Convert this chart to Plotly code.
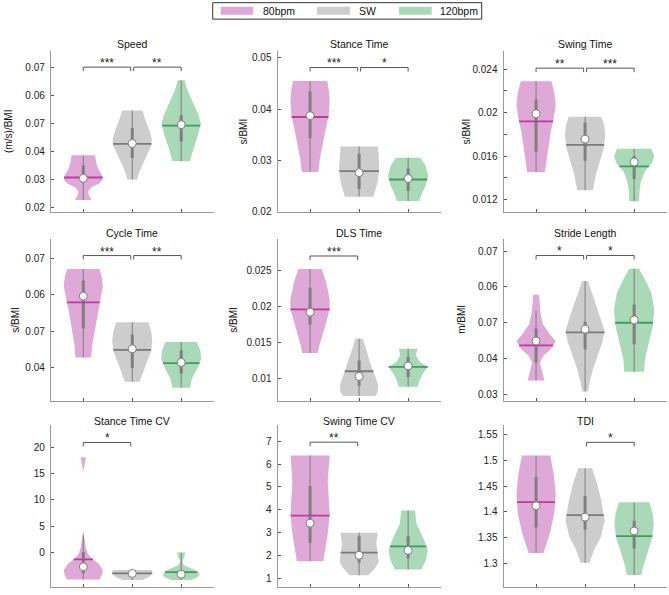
import numpy as np
import plotly.graph_objects as go

W, H = 669, 595

TITLES = ["Speed", "Stance Time", "Swing Time", "Cycle Time", "DLS Time",
          "Stride Length", "Stance Time CV", "Swing Time CV", "TDI"]
YLABELS = ["(m/s)/BMI", "s/BMI", "s/BMI", "s/BMI", "s/BMI", "m/BMI", "", "", ""]
GROUPS = ["80bpm", "SW", "120bpm"]

# y axis ranges, ticks and tick labels (as printed in the figure)
YRANGES = [[0.01834, 0.0759], [0.01988, 0.0514], [0.01083, 0.02572],
           [0.03106, 0.07523], [0.00693, 0.02936], [0.02825, 0.07341],
           [-6.53, 24.14], [0.609, 7.696], [1.2544, 1.5679]]
YTICKS = [[0.02, 0.03, 0.04, 0.05, 0.06, 0.07],
          [0.02, 0.03, 0.04, 0.05],
          [0.012, 0.014, 0.016, 0.018, 0.02, 0.022, 0.024],
          [0.04, 0.05, 0.06, 0.07],
          [0.01, 0.015, 0.02, 0.025],
          [0.03, 0.04, 0.05, 0.06, 0.07],
          [0, 5, 10, 15, 20],
          [1, 2, 3, 4, 5, 6, 7],
          [1.3, 1.35, 1.4, 1.45, 1.5, 1.55]]
YTICKTEXT = [["0.02", "0.03", "0.04", "0.07", "0.06", "0.07"],
             ["0.02", "0.03", "0.04", "0.05"],
             ["0.012", "", "0.016", "", "0.02", "", "0.024"],
             ["0.04", "0.07", "0.06", "0.07"],
             ["0.01", "0.015", "0.02", "0.025"],
             ["0.03", "0.04", "0.07", "0.06", "0.07"],
             ["0", "5", "10", "15", "20"],
             ["1", "2", "3", "4", "5", "6", "7"],
             ["1.3", "1.35", "1.4", "1.45", "1.5", "1.55"]]

# violin density profiles: (value, half-width in category units), top to bottom
PROFILE_SPEED = {
    "80bpm": [(0.0386, 0.24), (0.0362, 0.26), (0.0339, 0.30), (0.0315, 0.38), (0.0301, 0.40),
              (0.0286, 0.33), (0.0271, 0.16), (0.0256, 0.10), (0.0245, 0.11), (0.0227, 0.17)],
    "SW": [(0.0546, 0.21), (0.0515, 0.26), (0.0480, 0.34), (0.0445, 0.40), (0.0421, 0.39),
           (0.0386, 0.30), (0.0351, 0.20), (0.0321, 0.13), (0.0300, 0.10)],
    "120bpm": [(0.0653, 0.07), (0.0621, 0.12), (0.0574, 0.24), (0.0527, 0.36), (0.0498, 0.40),
               (0.0456, 0.34), (0.0421, 0.27), (0.0386, 0.21), (0.0365, 0.18)],
}
PROFILE_STANCE = {
    "80bpm": [(0.04548, 0.35), (0.04323, 0.39), (0.04129, 0.40), (0.03871, 0.38), (0.03613, 0.32),
              (0.03355, 0.26), (0.03032, 0.20), (0.02774, 0.17)],
    "SW": [(0.03271, 0.38), (0.03097, 0.40), (0.02839, 0.41), (0.02581, 0.38), (0.02387, 0.32),
           (0.0229, 0.29)],
    "120bpm": [(0.03052, 0.25), (0.02903, 0.35), (0.02710, 0.41), (0.02516, 0.36), (0.02323, 0.27),
               (0.02206, 0.23)],
}
PROFILE_SWING = {
    "80bpm": [(0.02290, 0.31), (0.02192, 0.37), (0.02070, 0.40), (0.01948, 0.36), (0.01826, 0.30),
              (0.01673, 0.25), (0.01551, 0.21), (0.01453, 0.18)],
    "SW": [(0.01963, 0.33), (0.01887, 0.39), (0.01795, 0.41), (0.01673, 0.38), (0.01551, 0.30),
           (0.01429, 0.22), (0.01337, 0.18), (0.01286, 0.16)],
    "120bpm": [(0.01667, 0.35), (0.01597, 0.41), (0.01536, 0.36), (0.01460, 0.22), (0.01368, 0.14),
               (0.01276, 0.11), (0.01185, 0.10)],
}
PROFILE_CYCLE = {
    "80bpm": [(0.06702, 0.33), (0.06467, 0.38), (0.06241, 0.40), (0.05880, 0.35), (0.05519, 0.29),
              (0.05067, 0.23), (0.04615, 0.18), (0.04281, 0.16)],
    "SW": [(0.05247, 0.33), (0.04976, 0.39), (0.04706, 0.41), (0.04434, 0.38), (0.04164, 0.30),
           (0.03893, 0.22), (0.03622, 0.15)],
    "120bpm": [(0.04706, 0.32), (0.04480, 0.39), (0.04254, 0.41), (0.03983, 0.33), (0.03712, 0.22),
               (0.03459, 0.18)],
}
PROFILE_DLS = {
    "80bpm": [(0.02518, 0.24), (0.0233, 0.33), (0.02101, 0.40), (0.01963, 0.40), (0.0178, 0.33),
              (0.01596, 0.25), (0.01459, 0.19), (0.01353, 0.16)],
    "SW": [(0.01550, 0.08), (0.01413, 0.14), (0.0123, 0.22), (0.01046, 0.32), (0.00908, 0.39),
           (0.00817, 0.38), (0.00757, 0.33)],
    "120bpm": [(0.01413, 0.19), (0.01321, 0.16), (0.0123, 0.24), (0.01161, 0.40), (0.01069, 0.30),
               (0.00954, 0.22), (0.00885, 0.20)],
}
PROFILE_STRIDE = {
    "80bpm": [(0.05784, 0.06), (0.05561, 0.07), (0.05282, 0.09), (0.04957, 0.14), (0.04679, 0.28),
              (0.04493, 0.40), (0.04261, 0.30), (0.04075, 0.15), (0.03889, 0.08), (0.03657, 0.12),
              (0.03388, 0.17)],
    "SW": [(0.06164, 0.06), (0.05839, 0.14), (0.05468, 0.24), (0.05097, 0.33), (0.04772, 0.40),
           (0.04447, 0.35), (0.04075, 0.25), (0.03704, 0.16), (0.03333, 0.09), (0.03082, 0.06)],
    "120bpm": [(0.06508, 0.10), (0.06211, 0.22), (0.05839, 0.35), (0.05375, 0.41), (0.04911, 0.38),
               (0.04447, 0.30), (0.03982, 0.22), (0.03630, 0.20)],
}
PROFILE_STANCE_CV = {
    "80bpm": [(18.1, 0.055), (16.7, 0.03), (15.4, 0.0), (4.2, 0.0), (2.95, 0.02), (1.07, 0.05),
              (-0.19, 0.09), (-1.13, 0.17), (-2.07, 0.31), (-3.32, 0.40), (-4.26, 0.38), (-5.08, 0.33)],
    "SW": [(-3.32, 0.40), (-3.95, 0.41), (-4.58, 0.35), (-5.2, 0.20)],
    "120bpm": [(0.0, 0.09), (-0.82, 0.06), (-1.76, 0.02), (-2.38, 0.06), (-3.32, 0.28),
               (-4.08, 0.38), (-4.70, 0.33), (-5.2, 0.20)],
}
PROFILE_SWING_CV = {
    "80bpm": [(6.38, 0.40), (5.84, 0.38), (5.26, 0.36), (4.54, 0.38), (3.81, 0.40), (3.09, 0.37),
              (2.36, 0.31), (1.74, 0.27)],
    "SW": [(2.99, 0.38), (2.51, 0.35), (2.07, 0.38), (1.71, 0.40), (1.42, 0.32), (1.13, 0.19)],
    "120bpm": [(3.96, 0.14), (3.38, 0.17), (2.80, 0.30), (2.22, 0.40), (1.78, 0.36), (1.38, 0.27)],
}
PROFILE_TDI = {
    "80bpm": [(1.5096, 0.29), (1.473, 0.36), (1.4346, 0.40), (1.3962, 0.37), (1.3577, 0.28),
              (1.3205, 0.15)],
    "SW": [(1.4846, 0.14), (1.4538, 0.25), (1.4218, 0.33), (1.3833, 0.40), (1.3513, 0.32),
           (1.3256, 0.18), (1.3013, 0.09)],
    "120bpm": [(1.4186, 0.31), (1.3962, 0.38), (1.3769, 0.40), (1.3513, 0.37), (1.3192, 0.27),
               (1.2936, 0.18), (1.2776, 0.15)],
}
PROFILES = [PROFILE_SPEED, PROFILE_STANCE, PROFILE_SWING, PROFILE_CYCLE, PROFILE_DLS,
            PROFILE_STRIDE, PROFILE_STANCE_CV, PROFILE_SWING_CV, PROFILE_TDI]

# summary statistics per panel, per group (80bpm, SW, 120bpm)
DOT = [[0.0304, 0.0428, 0.0495], [0.0387, 0.0276, 0.02645], [0.0199, 0.01756, 0.01545],
       [0.0596, 0.0452, 0.0415], [0.0192, 0.01028, 0.01174], [0.0449, 0.0482, 0.0508],
       [-2.7, -3.95, -4.1], [3.41, 2.0, 2.22], [1.412, 1.39, 1.363]]
HLINE = [[0.0307, 0.0427, 0.0492], [0.03845, 0.0279, 0.02626], [0.0192, 0.01704, 0.01505],
         [0.0579, 0.0449, 0.0413], [0.0196, 0.0110, 0.0116], [0.0437, 0.0473, 0.0500],
         [-1.3, -3.95, -3.7], [3.74, 2.12, 2.39], [1.419, 1.394, 1.353]]
Q3 = [[0.0350, 0.0483, 0.0529], [0.0434, 0.0313, 0.0284], [0.0212, 0.0191, 0.0160],
      [0.0639, 0.0491, 0.0448], [0.0226, 0.0125, 0.0130], [0.0484, 0.0503, 0.0551],
      [0.1, -3.5, -3.3], [5.04, 2.83, 2.83], [1.468, 1.431, 1.383]]
Q1 = [[0.0289, 0.0376, 0.0435], [0.0343, 0.0244, 0.0240], [0.0164, 0.01557, 0.0139],
      [0.0508, 0.0400, 0.0385], [0.0175, 0.0090, 0.0102], [0.0389, 0.0426, 0.0440],
      [-3.9, -4.3, -4.6], [2.54, 1.67, 1.86], [1.37, 1.366, 1.329]]
WHI = [[0.0386, 0.0546, 0.0653], [0.04548, 0.03271, 0.03052], [0.0229, 0.01963, 0.01667],
       [0.06702, 0.05247, 0.04706], [0.02518, 0.0155, 0.01413], [0.0533, 0.06164, 0.06508],
       [3.3, -3.32, 0.0], [6.38, 2.99, 3.96], [1.5096, 1.4846, 1.4186]]
WLO = [[0.0227, 0.0300, 0.0365], [0.02774, 0.0229, 0.02206], [0.01453, 0.01286, 0.01185],
       [0.04281, 0.03622, 0.03459], [0.01353, 0.00757, 0.00885], [0.03388, 0.03082, 0.0363],
       [-5.08, -5.2, -5.2], [1.74, 1.13, 1.38], [1.3205, 1.3013, 1.2776]]

# significance brackets: (group a, group b, height, label)
BRACKETS = [[(1, 2, 0.0700, "***"), (2, 3, 0.0700, "**")],
            [(1, 2, 0.0481, "***"), (2, 3, 0.0481, "*")],
            [(1, 2, 0.0241, "**"), (2, 3, 0.0241, "***")],
            [(1, 2, 0.0707, "***"), (2, 3, 0.0707, "**")],
            [(1, 2, 0.0270, "***")],
            [(1, 2, 0.0688, "*"), (2, 3, 0.0688, "*")],
            [(1, 2, 20.9, "*")],
            [(1, 2, 6.96, "**")],
            [(2, 3, 1.535, "*")]]

FILL = ["#dea8d7", "#cdcdcd", "#a9d9b6"]
LINECOL = ["#c0399e", "#7a7a7a", "#3f9d5c"]
GRAY = "#7f7f7f"
FONT = "Liberation Sans, Arial, Helvetica, sans-serif"

COL_PX = [(51, 213.5), (277.7, 440.5), (503.7, 666.5)]
ROW_PX = [(51, 214), (241, 404), (429, 592)]
TITLE_Y = [44, 234.5, 424.3]
YLAB_X = [[8.5, 243, 466], [16, 234, 462], [0, 0, 0]]

fig = go.Figure()
annotations = []
shapes = []

for k in range(9):
    r, c = divmod(k, 3)
    ax = "" if k == 0 else str(k + 1)
    xa, ya = "x" + ax, "y" + ax
    yr = YRANGES[k]
    for g, gname in enumerate(GROUPS):
        cx = g + 1
        prof = PROFILES[k][gname]
        ys = [p[0] for p in prof]
        ws = [p[1] for p in prof]
        xs_poly = [cx + w for w in ws] + [cx - w for w in ws[::-1]]
        ys_poly = ys + ys[::-1]
        fig.add_trace(go.Scatter(x=xs_poly, y=ys_poly, mode="lines", fill="toself",
                                 fillcolor=FILL[g], line=dict(width=0, color=FILL[g]),
                                 xaxis=xa, yaxis=ya, hoverinfo="skip", showlegend=False))
        fig.add_trace(go.Scatter(x=[cx, cx], y=[WLO[k][g], WHI[k][g]], mode="lines",
                                 line=dict(color=GRAY, width=1), xaxis=xa, yaxis=ya,
                                 hoverinfo="skip", showlegend=False))
        fig.add_trace(go.Scatter(x=[cx, cx], y=[Q1[k][g], Q3[k][g]], mode="lines",
                                 line=dict(color=GRAY, width=3), xaxis=xa, yaxis=ya,
                                 hoverinfo="skip", showlegend=False))
        hw = float(np.interp(HLINE[k][g], ys[::-1], ws[::-1]))
        fig.add_trace(go.Scatter(x=[cx - hw, cx + hw], y=[HLINE[k][g]] * 2, mode="lines",
                                 line=dict(color=LINECOL[g], width=1.8), xaxis=xa, yaxis=ya,
                                 hoverinfo="skip", showlegend=False))
        fig.add_trace(go.Scatter(x=[cx], y=[DOT[k][g]], mode="markers",
                                 marker=dict(color="white", size=8, line=dict(color=GRAY, width=1)),
                                 xaxis=xa, yaxis=ya, hoverinfo="skip", showlegend=False))
    # brackets
    drop = 4.0 / (ROW_PX[r][1] - ROW_PX[r][0]) * (yr[1] - yr[0])
    for (a, b, yb, lab) in BRACKETS[k]:
        x0 = a + (0.03 if a == 2 else 0.0)
        x1 = b - (0.03 if b == 2 else 0.0)
        fig.add_trace(go.Scatter(x=[x0, x0, x1, x1], y=[yb - drop, yb, yb, yb - drop],
                                 mode="lines", line=dict(color="#555555", width=1),
                                 xaxis=xa, yaxis=ya, hoverinfo="skip", showlegend=False))
        annotations.append(dict(x=(x0 + x1) / 2, y=yb, xref=xa, yref=ya, text=lab,
                                showarrow=False, yanchor="bottom", yshift=-5,
                                font=dict(family=FONT, size=12, color="#222")))
    # axes
    x0p, x1p = COL_PX[c]
    y0p, y1p = ROW_PX[r]
    fig.layout["xaxis" + ax] = dict(domain=[x0p / W, x1p / W], range=[0.34, 3.66],
                                    tickvals=[1, 2, 3], ticktext=["", "", ""],
                                    ticks="inside", ticklen=3, tickcolor="#555",
                                    showline=True, linecolor="#9a9a9a", linewidth=1.2,
                                    showgrid=False, zeroline=False, anchor=ya, fixedrange=True)
    fig.layout["yaxis" + ax] = dict(domain=[1 - y1p / H, 1 - y0p / H], range=yr,
                                    tickvals=YTICKS[k], ticktext=YTICKTEXT[k],
                                    ticks="inside", ticklen=3, tickcolor="#555",
                                    showline=True, linecolor="#9a9a9a", linewidth=1.2,
                                    showgrid=False, zeroline=False, anchor=xa, fixedrange=True,
                                    tickfont=dict(family=FONT, size=10, color="#222"),
                                    ticklabelstandoff=3)
    annotations.append(dict(x=2, y=1 - TITLE_Y[r] / H, xref=xa, yref="paper", text=TITLES[k],
                            showarrow=False, yanchor="middle",
                            font=dict(family=FONT, size=10.5, color="#111")))
    if YLABELS[k]:
        annotations.append(dict(x=YLAB_X[r][c] / W, y=1 - (y0p + y1p) / 2 / H, xref="paper",
                                yref="paper", text=YLABELS[k], textangle=-90, showarrow=False,
                                xanchor="center", yanchor="middle",
                                font=dict(family=FONT, size=10, color="#111")))

# legend box
shapes.append(dict(type="rect", xref="paper", yref="paper", x0=212.7 / W, x1=481.7 / W,
                   y0=1 - 19.3 / H, y1=1 - 2.7 / H, line=dict(color="#333", width=1),
                   fillcolor="white"))
LEG_SW = [(220.7, 253.3), (317, 350), (399, 431.7)]
LEG_TX = [261, 356.7, 438.3]
for g, gname in enumerate(GROUPS):
    shapes.append(dict(type="rect", xref="paper", yref="paper", x0=LEG_SW[g][0] / W,
                       x1=LEG_SW[g][1] / W, y0=1 - 15 / H, y1=1 - 6.7 / H,
                       line=dict(width=0), fillcolor=FILL[g]))
    annotations.append(dict(x=LEG_TX[g] / W, y=1 - 11 / H, xref="paper", yref="paper",
                            text=gname, showarrow=False, xanchor="left", yanchor="middle",
                            font=dict(family=FONT, size=10.5, color="#111")))

fig.update_layout(width=W, height=H, margin=dict(l=0, r=0, t=0, b=0),
                  paper_bgcolor="white", plot_bgcolor="white", showlegend=False,
                  annotations=annotations, shapes=shapes, font=dict(family=FONT),
                  hovermode=False)
fig.write_html("out.html", config={"displayModeBar": False, "staticPlot": True},
               post_script="document.body.style.margin='0';document.body.style.overflow='hidden';")
